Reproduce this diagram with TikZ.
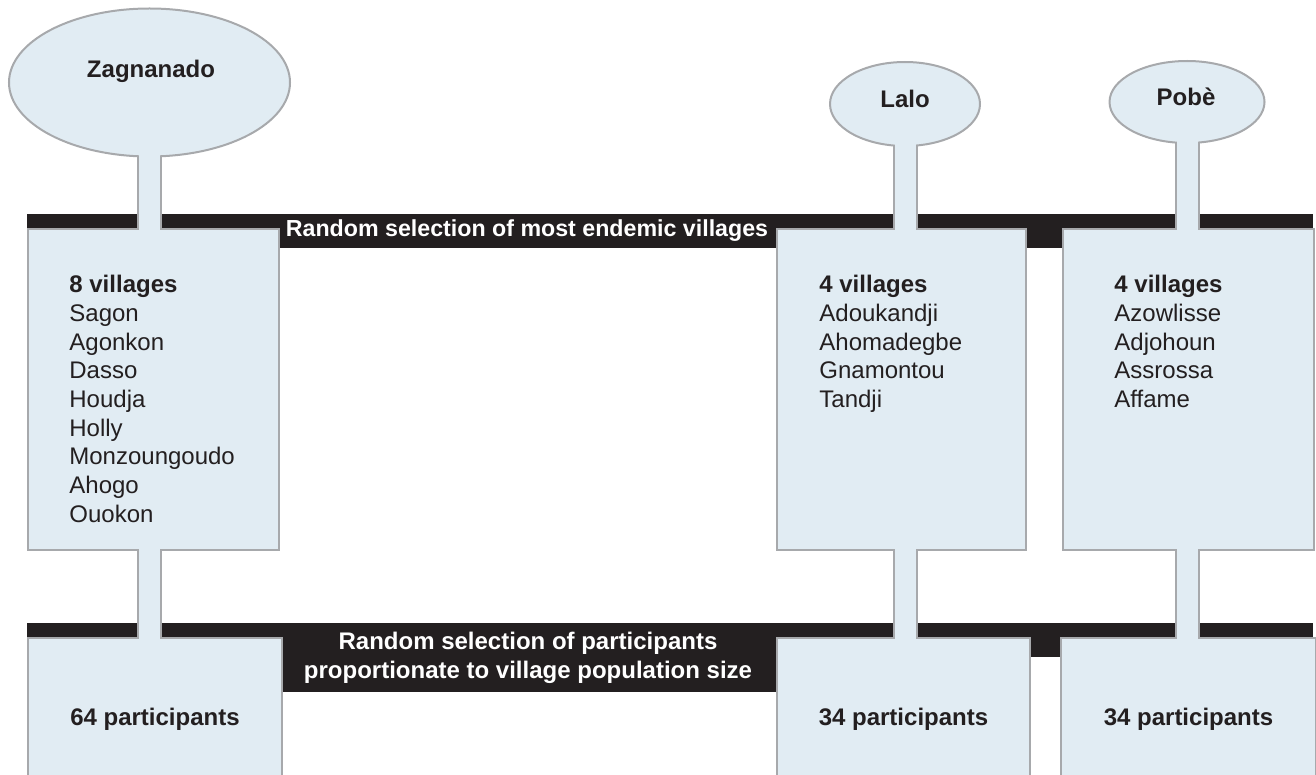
\documentclass[tikz,border=0pt]{standalone}
\usepackage{fontspec}
\setmainfont{Liberation Sans}
\usetikzlibrary{shapes.geometric,backgrounds}
\definecolor{paleblue}{RGB}{225,236,243}
\definecolor{edgegray}{RGB}{167,169,172}
\definecolor{inkblack}{RGB}{35,31,32}
\tikzset{
	town/.style={ellipse,fill=paleblue,draw=edgegray,line width=1pt,inner sep=0pt},
	townname/.style={font=\fontsize{12}{14.35}\selectfont\bfseries,text=inkblack},
	vbox/.style={rectangle,fill=paleblue,draw=edgegray,line width=1pt,inner sep=0pt,anchor=north west,
		font=\fontsize{12}{14.35}\selectfont\bfseries,text=inkblack},
	namelist/.style={anchor=north west,inner sep=0pt,align=left,font=\fontsize{12}{14.35}\selectfont,text=inkblack},
	barlabel/.style={fill=inkblack,text=white,inner sep=0pt,align=center,font=\fontsize{12}{14.5}\selectfont\bfseries},
	stem/.style={draw=edgegray,line width=1pt,double=paleblue,double distance=10.5pt},
	stemfill/.style={draw=paleblue,line width=10.5pt,shorten <=-3pt,shorten >=-3pt}
}
\begin{document}
\begin{tikzpicture}[x=0.5pt,y=-0.5pt]
	\useasboundingbox (0,0) rectangle (1316,775);
	\clip (0,0) rectangle (1316,775);
	\node[town,minimum width=140.5pt,minimum height=74pt] (zag) at (149.5,82.5) {};
	\node[town,minimum width=75pt,minimum height=42pt] (lalo) at (905,104) {};
	\node[town,minimum width=77.5pt,minimum height=41pt] (pobe) at (1187,102) {};
	\node[vbox,minimum width=125.5pt,minimum height=160.5pt] (zagV) at (27,228) {};
	\node[vbox,minimum width=124.5pt,minimum height=160.5pt] (laloV) at (776,228) {};
	\node[vbox,minimum width=125.5pt,minimum height=160.5pt] (pobeV) at (1062,228) {};
	\node[vbox,minimum width=127pt,minimum height=81.5pt] (zagP) at (27,637) {64 participants};
	\node[vbox,minimum width=126.5pt,minimum height=81.5pt] (laloP) at (776,637) {34 participants};
	\node[vbox,minimum width=127.5pt,minimum height=81.5pt] (pobeP) at (1060,637) {34 participants};
	\begin{scope}[on background layer]
		\fill[inkblack] (27,214) rectangle (1313,228);
		\fill[inkblack] (1015,214) rectangle (1070,248);
		\fill[inkblack] (27,623) rectangle (1313,637);
		\fill[inkblack] (1020,623) rectangle (1070,657);
		\node[barlabel,minimum width=262pt,minimum height=17pt,font=\fontsize{11.6}{14}\selectfont\bfseries] (sel1) at (527,231)
			{Random selection of most endemic villages};
		\node[barlabel,minimum width=262pt,minimum height=34.5pt] (sel2) at (528,657.5)
			{Random selection of participants\\proportionate to village population size};
		\draw[stem] (zag.center) -- (zag.center |- zagP.center);
		\draw[stem] (lalo.center) -- (lalo.center |- laloP.center);
		\draw[stem] (pobe.center) -- (pobe.center |- pobeP.center);
	\end{scope}
	\draw[stemfill] (zag.south) -- (zag.south |- zagP.north);
	\draw[stemfill] (lalo.south) -- (lalo.south |- laloP.north);
	\draw[stemfill] (pobe.south) -- (pobe.south |- pobeP.north);
	\node[townname] (zagName) at (151,71) {Zagnanado};
	\node[townname] (laloName) at (905,99) {Lalo};
	\node[townname] (pobeName) at (1186,97) {Pobè};
	\node[namelist] (zagList) at (69,275) {\textbf{8 villages}\\Sagon\\Agonkon\\Dasso\\Houdja\\Holly\\Monzoungoudo\\Ahogo\\Ouokon};
	\node[namelist] (laloList) at (819,275) {\textbf{4 villages}\\Adoukandji\\Ahomadegbe\\Gnamontou\\Tandji};
	\node[namelist] (pobeList) at (1114,275) {\textbf{4 villages}\\Azowlisse\\Adjohoun\\Assrossa\\Affame};
\end{tikzpicture}
\end{document}
